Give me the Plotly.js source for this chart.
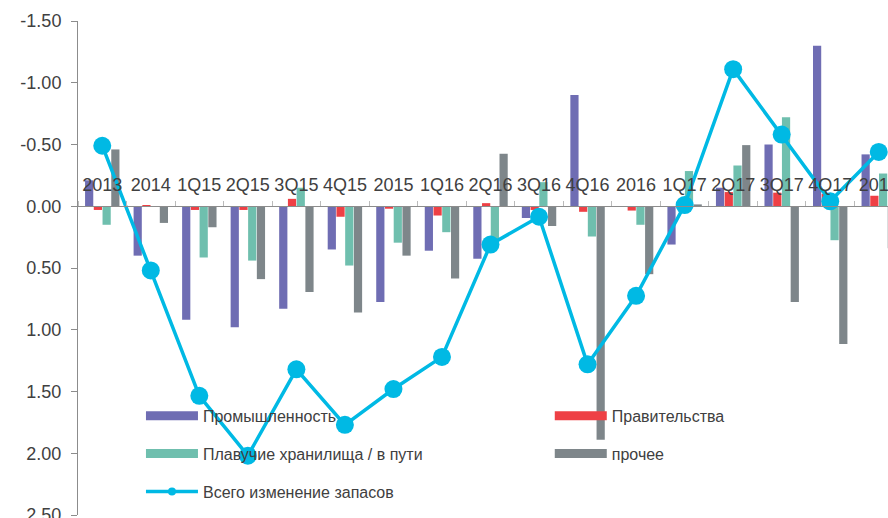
<!DOCTYPE html>
<html><head><meta charset="utf-8">
<script src="https://cdn.plot.ly/plotly-3.0.1.min.js"></script>
<style>html,body{margin:0;padding:0;overflow:hidden;background:#fff}#chart{width:906px;height:518px}</style>
</head><body><div id="chart"></div>
<script>
const categories = ['2013','2014','1Q15','2Q15','3Q15','4Q15','2015','1Q16','2Q16','3Q16','4Q16','2016','1Q17','2Q17','3Q17','4Q17','2017'];
const industry   = [-0.21, 0.40, 0.92, 0.98, 0.83, 0.35, 0.775, 0.36, 0.425, 0.095, -0.90, 0.005, 0.31, -0.15, -0.50, -1.30, -0.42];
const government = [0.03, -0.01, 0.03, 0.03, -0.06, 0.085, 0.02, 0.075, -0.025, 0.03, 0.045, 0.035, 0.0, -0.115, -0.11, -0.10, -0.085];
const floating   = [0.15, 0.0, 0.415, 0.44, -0.15, 0.48, 0.295, 0.21, 0.33, -0.195, 0.245, 0.15, -0.285, -0.33, -0.72, 0.275, -0.265];
const other      = [-0.46, 0.135, 0.17, 0.59, 0.695, 0.86, 0.40, 0.585, -0.425, 0.16, 1.89, 0.55, -0.015, -0.495, 0.775, 1.115, 0.34];
const total      = [-0.49, 0.52, 1.535, 2.02, 1.32, 1.77, 1.48, 1.22, 0.31, 0.085, 1.28, 0.725, -0.01, -1.11, -0.58, -0.04, -0.44];
const seriesNames = ['Промышленность','Правительства','Плавучие хранилища / в пути','прочее','Всего изменение запасов'];
const yTickVals = [-1.5,-1,-0.5,0,0.5,1,1.5,2,2.5];
const yTickText = ['-1.50','-1.00','-0.50','0.00','0.50','1.00','1.50','2.00','2.50'];

const colors = ['#6F6DB3','#EE4045','#6FBFAE','#7E868A','#00B9E4'];
const FONT = '"Liberation Sans", Arial, sans-serif';
const textColor = '#404040';

const barSeries = [industry, government, floating, other];
const traces = barSeries.map((vals, i) => ({
  type: 'bar', x: categories, y: vals, name: seriesNames[i],
  marker: {color: colors[i], line: {width: 0}},
  legend: i === 0 ? 'legend' : 'legend' + (i + 1),
  hoverinfo: 'skip'
}));
traces.push({
  type: 'scatter', mode: 'lines+markers', x: categories, y: total, name: seriesNames[4],
  line: {color: colors[4], width: 3.5},
  marker: {color: colors[4], size: 18},
  legend: 'legend5', hoverinfo: 'skip'
});

const W = 906, H = 518;
const M = {l: 78, r: 2.6, t: 20.6, b: 2.6};
const pw = W - M.l - M.r, ph = H - M.t - M.b;
const px = v => (v - M.l) / pw;
const py = v => (H - M.b - v) / ph;
function leg(x, y) {
  return {x: px(x), y: py(y), xanchor: 'left', yanchor: 'middle', bgcolor: 'rgba(0,0,0,0)',
    borderwidth: 0, font: {family: FONT, size: 16, color: textColor}, itemwidth: 52};
}

const layout = {
  width: W, height: H, margin: M,
  paper_bgcolor: '#fff', plot_bgcolor: '#fff',
  font: {family: FONT, color: textColor},
  barmode: 'group', bargap: 0.28, bargroupgap: 0.06,
  showlegend: true,
  legend: leg(141, 416), legend2: leg(550, 416), legend3: leg(141, 454), legend4: leg(550, 454), legend5: leg(141, 492),
  xaxis: {
    type: 'category', range: [-0.5, 16.5], anchor: 'free', position: 0.625, side: 'top',
    showline: true, linecolor: '#8C8C8C', linewidth: 1,
    ticks: 'outside', tickson: 'boundaries', ticklen: 5, tickcolor: '#BBBBBB', tickwidth: 1,
    tickangle: 0, ticklabelstandoff: 8, tickfont: {family: FONT, size: 18, color: textColor},
    showgrid: false, zeroline: false, fixedrange: true
  },
  yaxis: {
    range: [2.5, -1.5], tickvals: yTickVals, ticktext: yTickText,
    showline: true, linecolor: '#8C8C8C', linewidth: 1,
    ticks: 'outside', ticklen: 6, tickcolor: '#8C8C8C', ticklabelstandoff: 6,
    ticklabeloverflow: 'allow',
    tickfont: {family: FONT, size: 18, color: textColor},
    showgrid: false, zeroline: false, fixedrange: true
  }
};

const BAR_SWATCH = 'M26,4.5H-26V-4.5H26Z';
const SMALL_DOT = 'M4,0A4,4 0 1,1 0,-4A4,4 0 0,1 4,0Z';
let passes = 0;
function restyleLegendSymbols(gd) {
  if (passes++ > 400) return;
  // legend swatches styled like the original: wide flat bars and a small marker
  gd.querySelectorAll('g.legendpoints path').forEach(p => {
    const raw = p.getAttribute('d') || '';
    if (raw === SMALL_DOT || raw === BAR_SWATCH) return;
    const d = raw.replace(/\s/g, '');
    if (p.classList.contains('scatterpts')) {
      p.setAttribute('d', SMALL_DOT);
    } else if (/^M6,6H-6V-6H6Z$/.test(d)) {
      p.setAttribute('d', BAR_SWATCH);
    }
  });
}

const gdEl = document.getElementById('chart');
const obs = new MutationObserver(() => restyleLegendSymbols(gdEl));
obs.observe(gdEl, {subtree: true, childList: true, attributes: true, attributeFilter: ['d']});
Plotly.newPlot(gdEl, traces, layout, {displayModeBar: false, staticPlot: true}).then(gd => {
  restyleLegendSymbols(gd);
});
</script></body></html>
